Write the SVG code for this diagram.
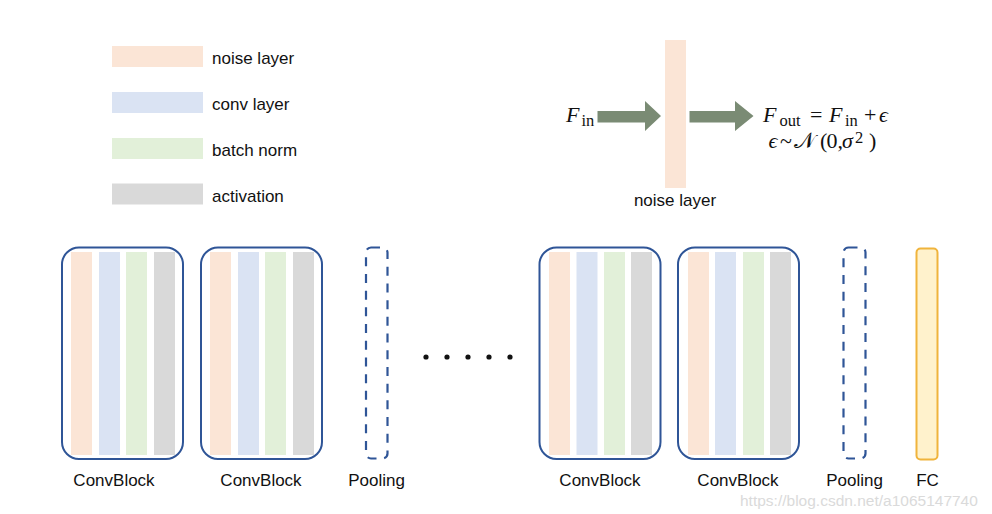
<svg xmlns="http://www.w3.org/2000/svg" width="992" height="514" viewBox="0 0 992 514">
<style>
.lbl{font-family:"Liberation Sans",Arial,sans-serif;font-size:17px;fill:#111}
.math{font-family:"Liberation Serif","DejaVu Serif",serif;font-size:22px;fill:#111}
.it{font-style:italic}
.sub{font-size:16.5px}
.noise{fill:#FBE5D6}
.conv{fill:#DAE3F3}
.bn{fill:#E2F0D9}
.act{fill:#D9D9D9}
.block{fill:none;stroke:#2F5597;stroke-width:2}
.pool{fill:none;stroke:#2F5597;stroke-width:2.2;stroke-dasharray:9 7.7}
.arrow{fill:#7A8B74}
</style>
<rect width="992" height="514" fill="#fff"/>

<g id="legend">
  <rect class="noise" x="112" y="46" width="91" height="21"/>
  <text class="lbl" x="212" y="64">noise layer</text>
  <rect class="conv" x="112" y="92" width="91" height="21"/>
  <text class="lbl" x="212" y="110">conv layer</text>
  <rect class="bn" x="112" y="138" width="91" height="21"/>
  <text class="lbl" x="212" y="156">batch norm</text>
  <rect class="act" x="112" y="183.5" width="91" height="21"/>
  <text class="lbl" x="212" y="201.5">activation</text>
</g>

<g id="noise-illustration">
  <rect class="noise" x="665" y="40" width="21" height="148"/>
  <text class="lbl" x="675" y="205.5" text-anchor="middle">noise layer</text>
  <text class="math"><tspan class="it" x="566" y="122">F</tspan><tspan class="sub" x="581.5" y="125.5">in</tspan></text>
  <text class="math"><tspan class="it" x="763" y="122">F</tspan><tspan class="sub" x="779.5" y="125.5">out</tspan><tspan x="810" y="122">=</tspan><tspan class="it" x="829" y="122">F</tspan><tspan class="sub" x="845" y="125.5">in</tspan><tspan x="864" y="122">+</tspan><tspan class="it" x="879" y="122">ϵ</tspan></text>
  <text class="math"><tspan class="it" x="768.5" y="148">ϵ</tspan><tspan x="780" y="148">~</tspan><tspan x="794" y="148">𝒩</tspan><tspan x="820" y="148">(</tspan><tspan x="826.5" y="148">0,</tspan><tspan class="it" x="842" y="148">σ</tspan><tspan class="sub" x="855" y="142.5">2</tspan><tspan x="869" y="148">)</tspan></text>
</g>

<g id="connectors">
  <polygon class="arrow" points="597.5,111 645,111 645,101 661,116 645,131 645,122.5 597.5,122.5"/>
  <polygon class="arrow" points="689.5,111 735,111 735,101 753.5,116 735,131 735,122.5 689.5,122.5"/>
</g>

<g id="convblock1">
  <rect class="noise" x="71" y="252" width="21" height="203"/>
  <rect class="conv" x="99" y="252" width="21" height="203"/>
  <rect class="bn" x="126" y="252" width="21" height="203"/>
  <rect class="act" x="154" y="252" width="21" height="203"/>
  <rect class="block" x="62" y="247.5" width="121" height="211.5" rx="17"/>
  <text class="lbl" x="114" y="486" text-anchor="middle">ConvBlock</text>
</g>
<g id="convblock2">
  <rect class="noise" x="210" y="252" width="21" height="203"/>
  <rect class="conv" x="238" y="252" width="21" height="203"/>
  <rect class="bn" x="265" y="252" width="21" height="203"/>
  <rect class="act" x="293" y="252" width="21" height="203"/>
  <rect class="block" x="201" y="247.5" width="121" height="211.5" rx="17"/>
  <text class="lbl" x="261" y="486" text-anchor="middle">ConvBlock</text>
</g>
<g id="pooling1">
  <rect class="pool" x="366" y="247.5" width="21.5" height="211" rx="5"/>
  <text class="lbl" x="376.5" y="486" text-anchor="middle">Pooling</text>
</g>
<g id="ellipsis">
  <circle cx="426" cy="357" r="2.6" fill="#111"/>
  <circle cx="447" cy="357" r="2.6" fill="#111"/>
  <circle cx="468" cy="357" r="2.6" fill="#111"/>
  <circle cx="489" cy="357" r="2.6" fill="#111"/>
  <circle cx="510" cy="357" r="2.6" fill="#111"/>
</g>
<g id="convblock3">
  <rect class="noise" x="549" y="252" width="21" height="203"/>
  <rect class="conv" x="576.5" y="252" width="21" height="203"/>
  <rect class="bn" x="604" y="252" width="21" height="203"/>
  <rect class="act" x="631" y="252" width="21" height="203"/>
  <rect class="block" x="539.5" y="247.5" width="121" height="211.5" rx="17"/>
  <text class="lbl" x="600" y="486" text-anchor="middle">ConvBlock</text>
</g>
<g id="convblock4">
  <rect class="noise" x="688" y="252" width="21" height="203"/>
  <rect class="conv" x="715" y="252" width="21" height="203"/>
  <rect class="bn" x="743" y="252" width="21" height="203"/>
  <rect class="act" x="770" y="252" width="21" height="203"/>
  <rect class="block" x="678" y="247.5" width="121" height="211.5" rx="17"/>
  <text class="lbl" x="738" y="486" text-anchor="middle">ConvBlock</text>
</g>
<g id="pooling2">
  <rect class="pool" x="843.5" y="247.5" width="22" height="211" rx="5"/>
  <text class="lbl" x="854.5" y="486" text-anchor="middle">Pooling</text>
</g>
<g id="fc">
  <rect x="916.5" y="248.5" width="21" height="211" rx="4" fill="#FFF2CC" stroke="#F0B43C" stroke-width="2"/>
  <text class="lbl" x="927.5" y="486" text-anchor="middle">FC</text>
</g>
<text x="740" y="506" font-family="'Liberation Sans',Arial,sans-serif" font-size="15.5" fill="#DADADA">https://blog.csdn.net/a1065147740</text>
</svg>
